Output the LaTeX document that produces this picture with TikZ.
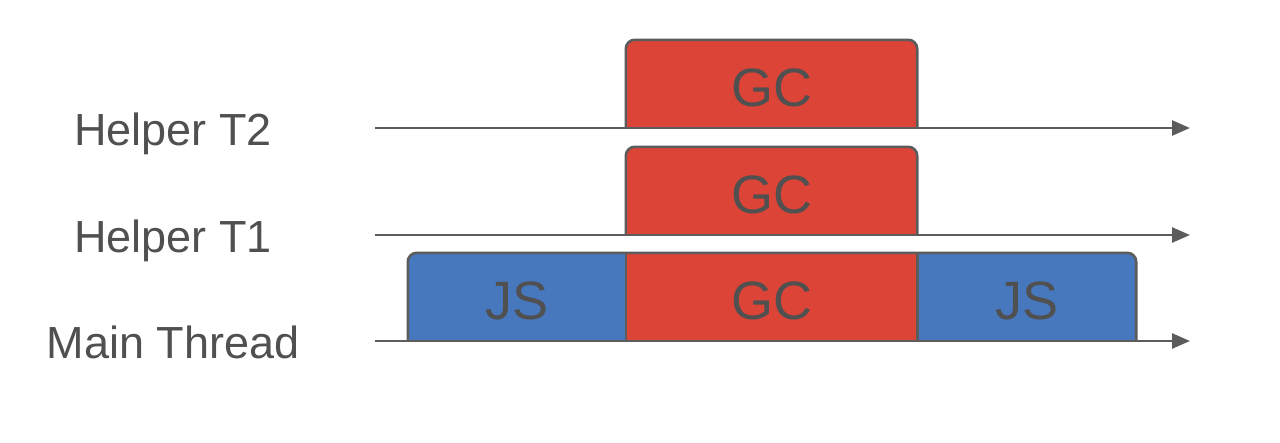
\documentclass[tikz,border=0pt]{standalone}
\usepackage{fontspec}
\setmainfont{Liberation Sans}
\usepackage{xcolor}
\definecolor{gcRed}{RGB}{219, 68, 55}
\definecolor{jsBlue}{RGB}{71, 120, 189}
\definecolor{axisGray}{RGB}{92, 92, 92}
\definecolor{labelGray}{RGB}{80, 80, 80}
\usetikzlibrary{
    arrows.meta,
    positioning,
    backgrounds
}

\begin{document}
\begin{tikzpicture}[
    x=1pt, y=-1pt,
    threadLabel/.style={
        font=\fontsize{45}{50}\selectfont, text=labelGray, inner sep=0pt
    },
    phaseBox/.style={
        font=\fontsize{54}{60}\selectfont, text=labelGray,
        inner sep=0pt, minimum height=88pt, text height=45pt, text depth=0pt
    },
    phaseEdge/.style={
        draw=axisGray, line width=2.6pt, rounded corners=9pt, line join=round
    },
    timeAxis/.style={
        -{Triangle[length=18pt, width=15pt]}, line width=2.6pt, draw=axisGray
    }
]
    \useasboundingbox (0, 0) rectangle (1280, 442);

    % Thread labels
    \node[threadLabel, anchor=base] (lblT2) at (173, 145) {Helper T2};
    \node[threadLabel, anchor=base] (lblT1) at (173, 252) {Helper T1};
    \node[threadLabel, anchor=base] (lblMain) at (173, 358) {Main Thread};

    % Phases
    \node[phaseBox, minimum width=291pt] (gcT2) at (771.5, 84) {GC};
    \node[phaseBox, minimum width=291pt] (gcT1) at (771.5, 191) {GC};
    \node[phaseBox, minimum width=218pt] (jsPre) at (517, 297) {JS};
    \node[phaseBox, minimum width=291pt] (gcMain) at (771.5, 297) {GC};
    \node[phaseBox, minimum width=219pt] (jsPost) at (1026.5, 297) {JS};

    \begin{scope}[on background layer]
        \path[phaseEdge, fill=gcRed] (gcT2.south west) -- (gcT2.north west) -- (gcT2.north east) -- (gcT2.south east);
        \path[phaseEdge, fill=gcRed] (gcT1.south west) -- (gcT1.north west) -- (gcT1.north east) -- (gcT1.south east);

        \fill[jsBlue, rounded corners=9pt] (jsPre.south west) -- (jsPre.north west) -- (jsPost.north east) -- (jsPost.south east);
        \fill[gcRed] (gcMain.south west) rectangle (gcMain.north east);
        \draw[phaseEdge] (jsPre.south west) -- (jsPre.north west) -- (jsPost.north east) -- (jsPost.south east);
        \draw[phaseEdge] (gcMain.north west) -- (gcMain.south west);
        \draw[phaseEdge] (gcMain.north east) -- (gcMain.south east);
    \end{scope}

    % Time axes
    \coordinate (t2Start) at (375, 128);
    \coordinate (t2End) at (1190, 128);
    \coordinate (t1Start) at (375, 235);
    \coordinate (t1End) at (1190, 235);
    \coordinate (mainStart) at (375, 341);
    \coordinate (mainEnd) at (1190, 341);

    \draw[timeAxis] (t2Start) -- (t2End);
    \draw[timeAxis] (t1Start) -- (t1End);
    \draw[timeAxis] (mainStart) -- (mainEnd);

\end{tikzpicture}
\end{document}
